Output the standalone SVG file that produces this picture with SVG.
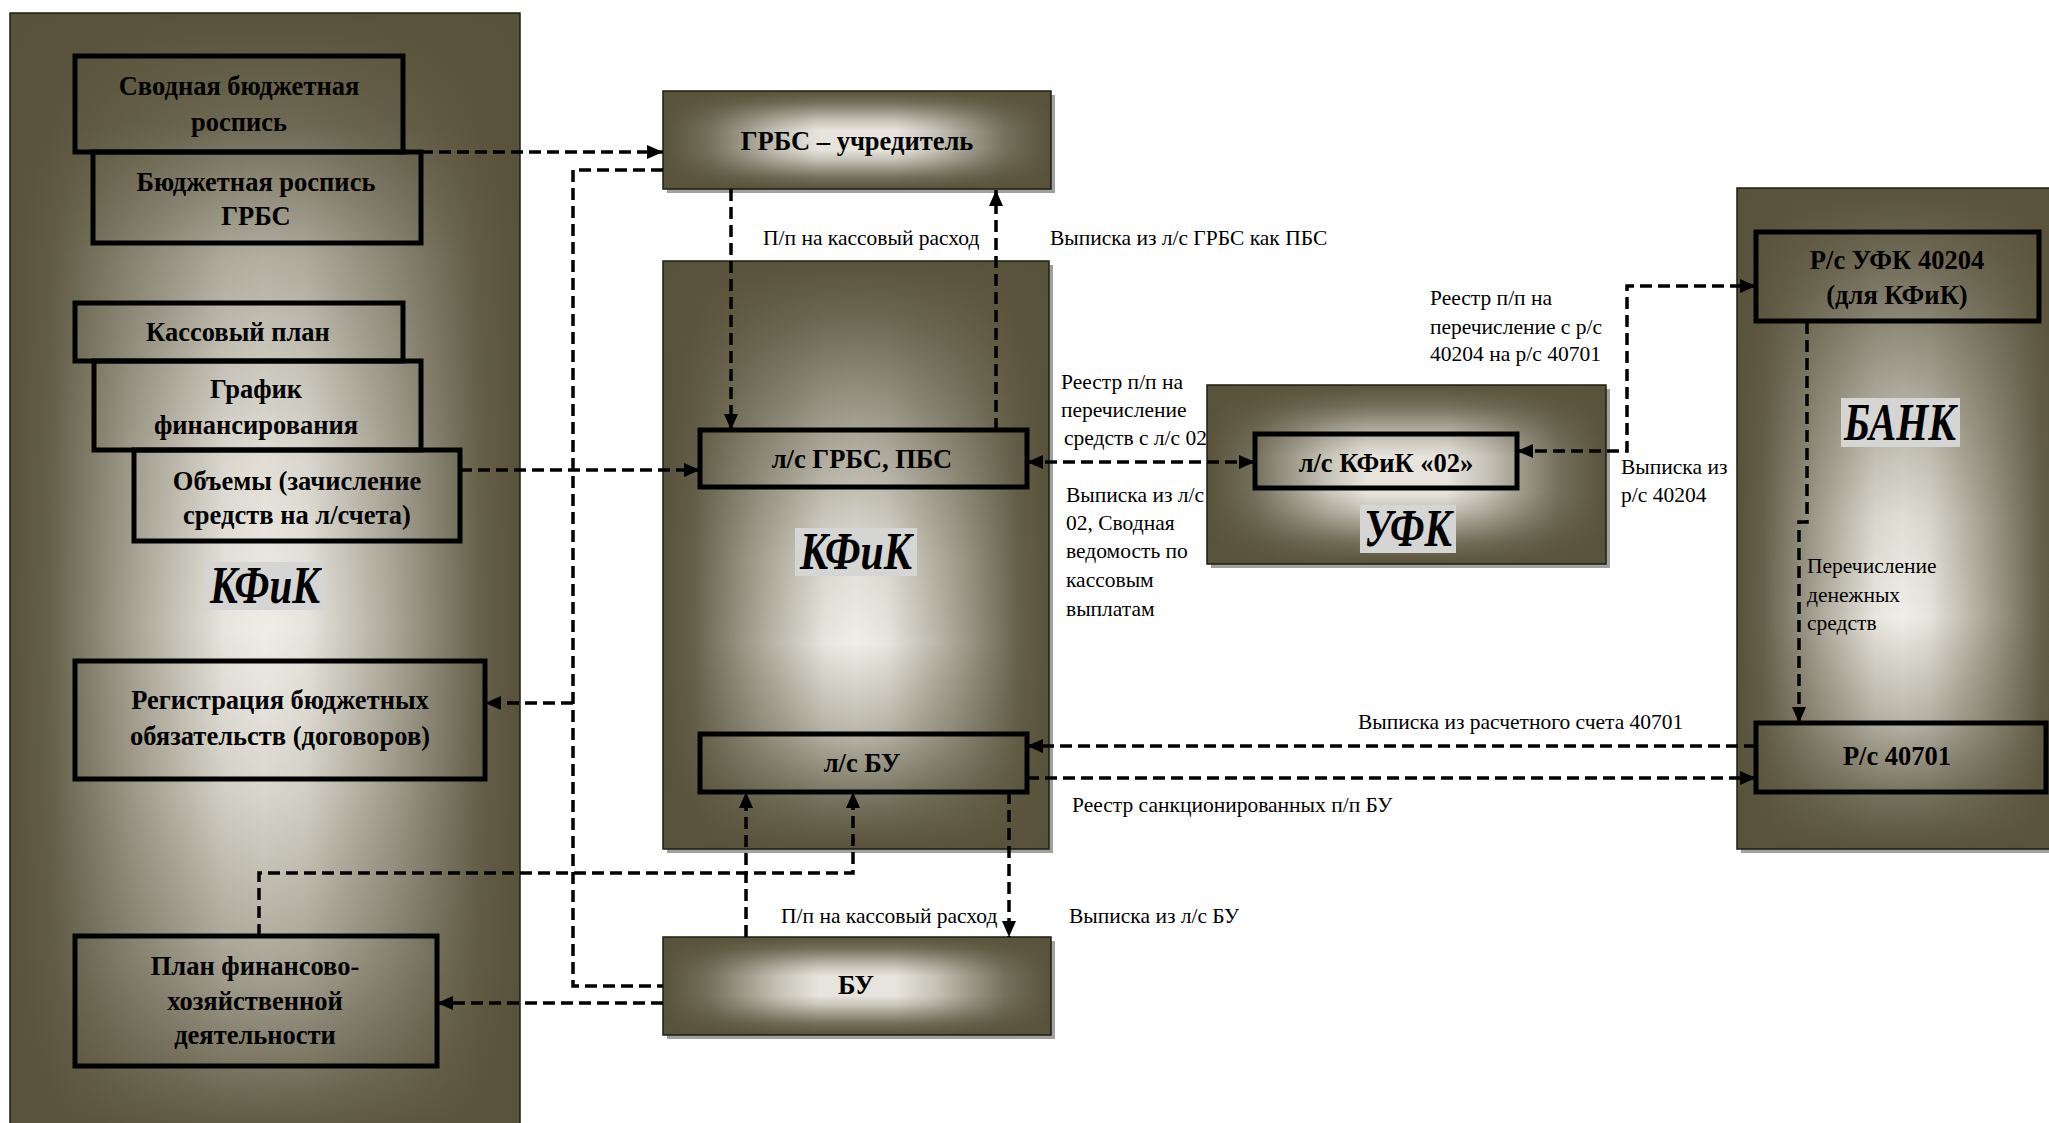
<svg xmlns="http://www.w3.org/2000/svg" width="2049" height="1123" viewBox="0 0 2049 1123">
<defs>
<style>
.base{fill:#efede6}
.pb{fill:none;stroke:#1e1e14;stroke-width:1.5}
.sh{fill:#a0a0a0}
.box{fill:none;stroke:#000;stroke-width:5}
.bt{font-family:"Liberation Serif","Times New Roman",serif;font-weight:bold;font-size:26.5px;text-anchor:middle;fill:#000}
.lt{font-family:"Liberation Serif","Times New Roman",serif;font-size:21.5px;fill:#000}
.big{font-family:"Liberation Serif","Times New Roman",serif;font-weight:bold;font-style:italic;font-size:52px;text-anchor:middle;fill:#000}
.lb{fill:#d5d5d3}
.c{fill:none;stroke:#000;stroke-width:3.5;stroke-dasharray:12 6}
.a{marker-end:url(#ah)}
.a2{marker-start:url(#as);marker-end:url(#ah)}
</style>
<linearGradient id="ghP" x1="0" y1="0" x2="1" y2="0">
<stop offset="0" stop-color="#58523a" stop-opacity="1"/>
<stop offset="0.08" stop-color="#58523a" stop-opacity="0.9"/>
<stop offset="0.25" stop-color="#58523a" stop-opacity="0.45"/>
<stop offset="0.42" stop-color="#58523a" stop-opacity="0.05"/>
<stop offset="0.5" stop-color="#58523a" stop-opacity="0"/>
<stop offset="0.58" stop-color="#58523a" stop-opacity="0.05"/>
<stop offset="0.75" stop-color="#58523a" stop-opacity="0.45"/>
<stop offset="0.92" stop-color="#58523a" stop-opacity="0.9"/>
<stop offset="1" stop-color="#58523a" stop-opacity="1"/>
</linearGradient>
<linearGradient id="gvL" x1="0" y1="0" x2="0" y2="1">
<stop offset="0" stop-color="#58523a" stop-opacity="1"/>
<stop offset="0.1" stop-color="#58523a" stop-opacity="0.85"/>
<stop offset="0.22" stop-color="#58523a" stop-opacity="0.4"/>
<stop offset="0.4" stop-color="#58523a" stop-opacity="0.1"/>
<stop offset="0.55" stop-color="#58523a" stop-opacity="0"/>
<stop offset="0.7" stop-color="#58523a" stop-opacity="0.15"/>
<stop offset="0.85" stop-color="#58523a" stop-opacity="0.45"/>
<stop offset="1" stop-color="#58523a" stop-opacity="0.95"/>
</linearGradient>
<linearGradient id="gvM" x1="0" y1="0" x2="0" y2="1">
<stop offset="0" stop-color="#58523a" stop-opacity="1"/>
<stop offset="0.1" stop-color="#58523a" stop-opacity="0.85"/>
<stop offset="0.3" stop-color="#58523a" stop-opacity="0.45"/>
<stop offset="0.5" stop-color="#58523a" stop-opacity="0.1"/>
<stop offset="0.65" stop-color="#58523a" stop-opacity="0"/>
<stop offset="0.8" stop-color="#58523a" stop-opacity="0.35"/>
<stop offset="0.92" stop-color="#58523a" stop-opacity="0.8"/>
<stop offset="1" stop-color="#58523a" stop-opacity="1"/>
</linearGradient>
<linearGradient id="ghB" x1="0" y1="0" x2="1" y2="0">
<stop offset="0" stop-color="#58523a" stop-opacity="1"/>
<stop offset="0.12" stop-color="#58523a" stop-opacity="0.8"/>
<stop offset="0.3" stop-color="#58523a" stop-opacity="0.25"/>
<stop offset="0.4" stop-color="#58523a" stop-opacity="0.03"/>
<stop offset="0.6" stop-color="#58523a" stop-opacity="0.03"/>
<stop offset="0.7" stop-color="#58523a" stop-opacity="0.25"/>
<stop offset="0.88" stop-color="#58523a" stop-opacity="0.8"/>
<stop offset="1" stop-color="#58523a" stop-opacity="1"/>
</linearGradient>
<linearGradient id="gvB" x1="0" y1="0" x2="0" y2="1">
<stop offset="0" stop-color="#58523a" stop-opacity="1"/>
<stop offset="0.12" stop-color="#58523a" stop-opacity="0.8"/>
<stop offset="0.3" stop-color="#58523a" stop-opacity="0.25"/>
<stop offset="0.4" stop-color="#58523a" stop-opacity="0.03"/>
<stop offset="0.6" stop-color="#58523a" stop-opacity="0.03"/>
<stop offset="0.7" stop-color="#58523a" stop-opacity="0.25"/>
<stop offset="0.88" stop-color="#58523a" stop-opacity="0.8"/>
<stop offset="1" stop-color="#58523a" stop-opacity="1"/>
</linearGradient>
<marker id="ah" markerUnits="userSpaceOnUse" markerWidth="16" markerHeight="14" refX="16" refY="7" orient="auto">
<path d="M0,0 L16,7 L0,14 z" fill="#000"/>
</marker>
<marker id="as" markerUnits="userSpaceOnUse" markerWidth="16" markerHeight="14" refX="0" refY="7" orient="auto">
<path d="M16,0 L0,7 L16,14 z" fill="#000"/>
</marker>
</defs>
<rect width="2049" height="1123" fill="#fff"/>

<g id="panel-kfik-left">
<rect class="base" x="10" y="13" width="510" height="1115"/>
<rect x="10" y="13" width="510" height="1115" fill="url(#ghP)"/>
<rect x="10" y="13" width="510" height="1115" fill="url(#gvL)"/>
<rect class="pb" x="10" y="13" width="510" height="1115"/>
<rect class="lb" x="206" y="562" width="118" height="48"/>
<text class="big" x="265" y="603" textLength="110" lengthAdjust="spacingAndGlyphs">КФиК</text>
</g>

<g id="node-svodnaya">
<rect class="box" x="75" y="56" width="328" height="96"/>
<text class="bt" x="239" y="95">Сводная бюджетная</text>
<text class="bt" x="239" y="131">роспись</text>
</g>
<g id="node-rospis-grbs">
<rect class="box" x="93" y="152" width="328" height="91"/>
<text class="bt" x="256" y="191">Бюджетная роспись</text>
<text class="bt" x="256" y="225">ГРБС</text>
</g>
<g id="node-kassplan">
<rect class="box" x="75" y="303" width="328" height="58"/>
<text class="bt" x="238" y="341">Кассовый план</text>
</g>
<g id="node-grafik">
<rect class="box" x="94" y="361" width="327" height="89"/>
<text class="bt" x="256" y="398">График</text>
<text class="bt" x="256" y="434">финансирования</text>
</g>
<g id="node-obemy">
<rect class="box" x="134" y="450" width="326" height="91"/>
<text class="bt" x="297" y="490">Объемы (зачисление</text>
<text class="bt" x="297" y="524">средств на л/счета)</text>
</g>
<g id="node-registr">
<rect class="box" x="75" y="661" width="410" height="118"/>
<text class="bt" x="280" y="709">Регистрация бюджетных</text>
<text class="bt" x="280" y="745">обязательств (договоров)</text>
</g>
<g id="node-plan">
<rect class="box" x="75" y="936" width="362" height="130"/>
<text class="bt" x="255" y="975">План финансово-</text>
<text class="bt" x="255" y="1010">хозяйственной</text>
<text class="bt" x="255" y="1044">деятельности</text>
</g>

<g id="node-grbs">
<rect class="sh" x="667" y="95" width="388" height="98"/>
<rect class="base" x="663" y="91" width="388" height="98"/>
<rect x="663" y="91" width="388" height="98" fill="url(#ghB)"/>
<rect x="663" y="91" width="388" height="98" fill="url(#gvB)"/>
<rect class="pb" x="663" y="91" width="388" height="98"/>
<text class="bt" x="857" y="150">ГРБС – учредитель</text>
</g>

<g id="panel-kfik-mid">
<rect class="sh" x="667" y="265" width="386" height="588"/>
<rect class="base" x="663" y="261" width="386" height="588"/>
<rect x="663" y="261" width="386" height="588" fill="url(#ghP)"/>
<rect x="663" y="261" width="386" height="588" fill="url(#gvM)"/>
<rect class="pb" x="663" y="261" width="386" height="588"/>
<rect class="lb" x="795" y="528" width="122" height="48"/>
<text class="big" x="856" y="569" textLength="112" lengthAdjust="spacingAndGlyphs">КФиК</text>
</g>
<g id="node-ls-grbs">
<rect class="box" x="700" y="430" width="327" height="57"/>
<text class="bt" x="862" y="468">л/с ГРБС, ПБС</text>
</g>
<g id="node-ls-bu">
<rect class="box" x="700" y="734" width="327" height="58"/>
<text class="bt" x="862" y="772">л/с БУ</text>
</g>

<g id="node-bu">
<rect class="sh" x="667" y="941" width="388" height="98"/>
<rect class="base" x="663" y="937" width="388" height="98"/>
<rect x="663" y="937" width="388" height="98" fill="url(#ghB)"/>
<rect x="663" y="937" width="388" height="98" fill="url(#gvB)"/>
<rect class="pb" x="663" y="937" width="388" height="98"/>
<text class="bt" x="856" y="994">БУ</text>
</g>

<g id="panel-ufk">
<rect class="sh" x="1211" y="389" width="399" height="179"/>
<rect class="base" x="1207" y="385" width="399" height="179"/>
<rect x="1207" y="385" width="399" height="179" fill="url(#ghB)"/>
<rect x="1207" y="385" width="399" height="179" fill="url(#gvB)"/>
<rect class="pb" x="1207" y="385" width="399" height="179"/>
<rect class="lb" x="1360" y="505" width="96" height="48"/>
<text class="big" x="1408" y="546" textLength="88" lengthAdjust="spacingAndGlyphs">УФК</text>
</g>
<g id="node-ls-kfik02">
<rect class="box" x="1255" y="434" width="262" height="54"/>
<text class="bt" x="1386" y="472">л/с КФиК «02»</text>
</g>

<g id="panel-bank">
<rect class="sh" x="1741" y="192" width="330" height="661"/>
<rect class="base" x="1737" y="188" width="330" height="661"/>
<rect x="1737" y="188" width="330" height="661" fill="url(#ghP)"/>
<rect x="1737" y="188" width="330" height="661" fill="url(#gvM)"/>
<rect class="pb" x="1737" y="188" width="330" height="661"/>
<rect class="lb" x="1841" y="398" width="119" height="49"/>
<text class="big" x="1900" y="440" textLength="112" lengthAdjust="spacingAndGlyphs">БАНК</text>
</g>
<g id="node-rs-40204">
<rect class="box" x="1756" y="232" width="283" height="89"/>
<text class="bt" x="1897" y="269">Р/с УФК 40204</text>
<text class="bt" x="1897" y="304">(для КФиК)</text>
</g>
<g id="node-rs-40701">
<rect class="box" x="1756" y="723" width="290" height="69"/>
<text class="bt" x="1897" y="765">Р/с 40701</text>
</g>

<g id="connectors">
<path class="c a" d="M421,152 H663"/>
<path class="c" d="M663,170 H573 V986 H663"/>
<path class="c a" d="M573,703 H485"/>
<path class="c a" d="M460,470 H700"/>
<path class="c a" d="M731,189 V430"/>
<path class="c a" d="M996,430 V190"/>
<path class="c a2" d="M1027,462 H1255"/>
<path class="c a2" d="M1517,451 H1627 V286 H1756"/>
<path class="c a" d="M1807,322 V522 H1799 V723"/>
<path class="c a" d="M1756,746 H1027"/>
<path class="c a" d="M1027,778 H1756"/>
<path class="c a" d="M746,937 V792"/>
<path class="c a" d="M259,936 V873 H853 V792"/>
<path class="c a" d="M1009,792 V937"/>
<path class="c a" d="M663,1003 H437"/>
</g>

<g id="labels">
<text class="lt" x="763" y="245">П/п на кассовый расход</text>
<text class="lt" x="1050" y="245">Выписка из л/с ГРБС как ПБС</text>
<text class="lt" x="1061" y="389">Реестр п/п на</text>
<text class="lt" x="1061" y="417">перечисление</text>
<text class="lt" x="1064" y="445">средств с л/с 02</text>
<text class="lt" x="1066" y="502">Выписка из л/с</text>
<text class="lt" x="1066" y="530">02, Сводная</text>
<text class="lt" x="1066" y="558">ведомость по</text>
<text class="lt" x="1066" y="587">кассовым</text>
<text class="lt" x="1066" y="616">выплатам</text>
<text class="lt" x="1430" y="305">Реестр п/п на</text>
<text class="lt" x="1430" y="334">перечисление с р/с</text>
<text class="lt" x="1430" y="361">40204 на р/с 40701</text>
<text class="lt" x="1621" y="474">Выписка из</text>
<text class="lt" x="1621" y="502">р/с 40204</text>
<text class="lt" x="1807" y="573">Перечисление</text>
<text class="lt" x="1807" y="602">денежных</text>
<text class="lt" x="1807" y="630">средств</text>
<text class="lt" x="1358" y="729">Выписка из расчетного счета 40701</text>
<text class="lt" x="1072" y="812">Реестр санкционированных п/п БУ</text>
<text class="lt" x="781" y="923">П/п на кассовый расход</text>
<text class="lt" x="1069" y="923">Выписка из л/с БУ</text>
</g>
</svg>
